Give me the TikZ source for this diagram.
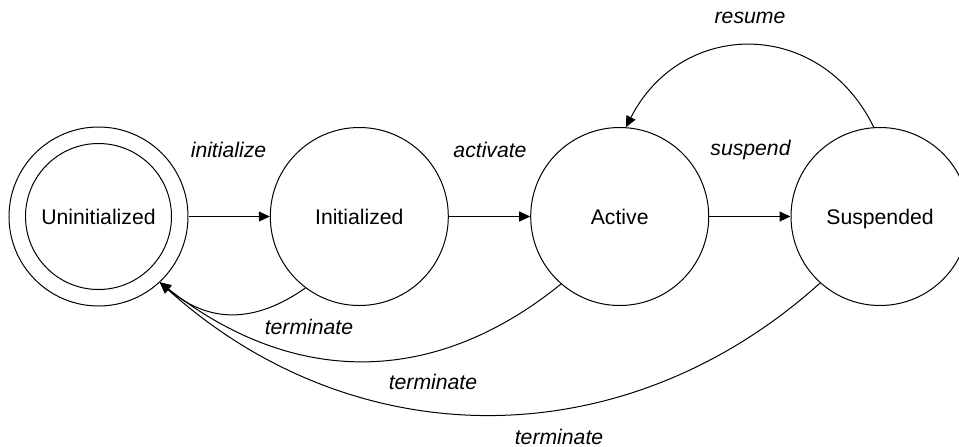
\documentclass[tikz,border=0pt]{standalone}
\usepackage{fontspec}
\setmainfont{Liberation Sans}
\usetikzlibrary{arrows.meta}
\begin{document}
\begin{tikzpicture}[x=0.5pt,y=-0.5pt,
  every node/.style={font=\fontsize{10.6}{12.7}\selectfont},
  state/.style={circle,draw,line width=0.5pt,minimum size=89pt,inner sep=0pt,text depth=0pt},
  lbl/.style={font=\fontsize{10.6}{12.7}\selectfont\itshape,inner sep=0pt},
  conn/.style={line width=0.5pt,-{Triangle[length=5.5pt,width=5pt]}}]
\useasboundingbox (0,0) rectangle (959,446);
\clip (0,0) rectangle (959,446);
% states
\node[state,minimum size=89.5pt] (u) at (98.5,216.5) {Uninitialized};
\draw[line width=0.5pt] (u.center) circle[radius=36.5pt];
\node[state] (i) at (359.3,216.5) {Initialized};
\node[state] (a) at (619.7,216.5) {Active};
\node[state] (s) at (880,216.5) {Suspended};
% forward transitions
\draw[conn] (u) -- (i);
\draw[conn] (i) -- (a);
\draw[conn] (a) -- (s);
% resume
\draw[conn] (s.94.3) .. controls +(-53.5,-109.7) and +(55.4,-108.7) .. (a.86.6);
% terminate
\draw[conn] (i.233.8) .. controls +(-51.9,36.3) and +(48.5,40.7) .. (u.-47.8);
\draw[conn] (a.229.3) .. controls +(-129.5,104.9) and +(131.4,102.7) .. (u.-47.8);
\draw[conn] (s.228.4) .. controls +(-195.4,176) and +(195.4,176) .. (u.-47.8);
% labels
\node[lbl] (l-init) at (228.5,150) {initialize};
\node[lbl] (l-act) at (490,150) {activate};
\node[lbl] (l-susp) at (750.5,150.5) {suspend};
\node[lbl] (l-res) at (750,18.3) {resume};
\node[lbl] (l-t1) at (309,327) {terminate};
\node[lbl] (l-t2) at (433,381.7) {terminate};
\node[lbl] (l-t3) at (559,436.5) {terminate};
\end{tikzpicture}
\end{document}
